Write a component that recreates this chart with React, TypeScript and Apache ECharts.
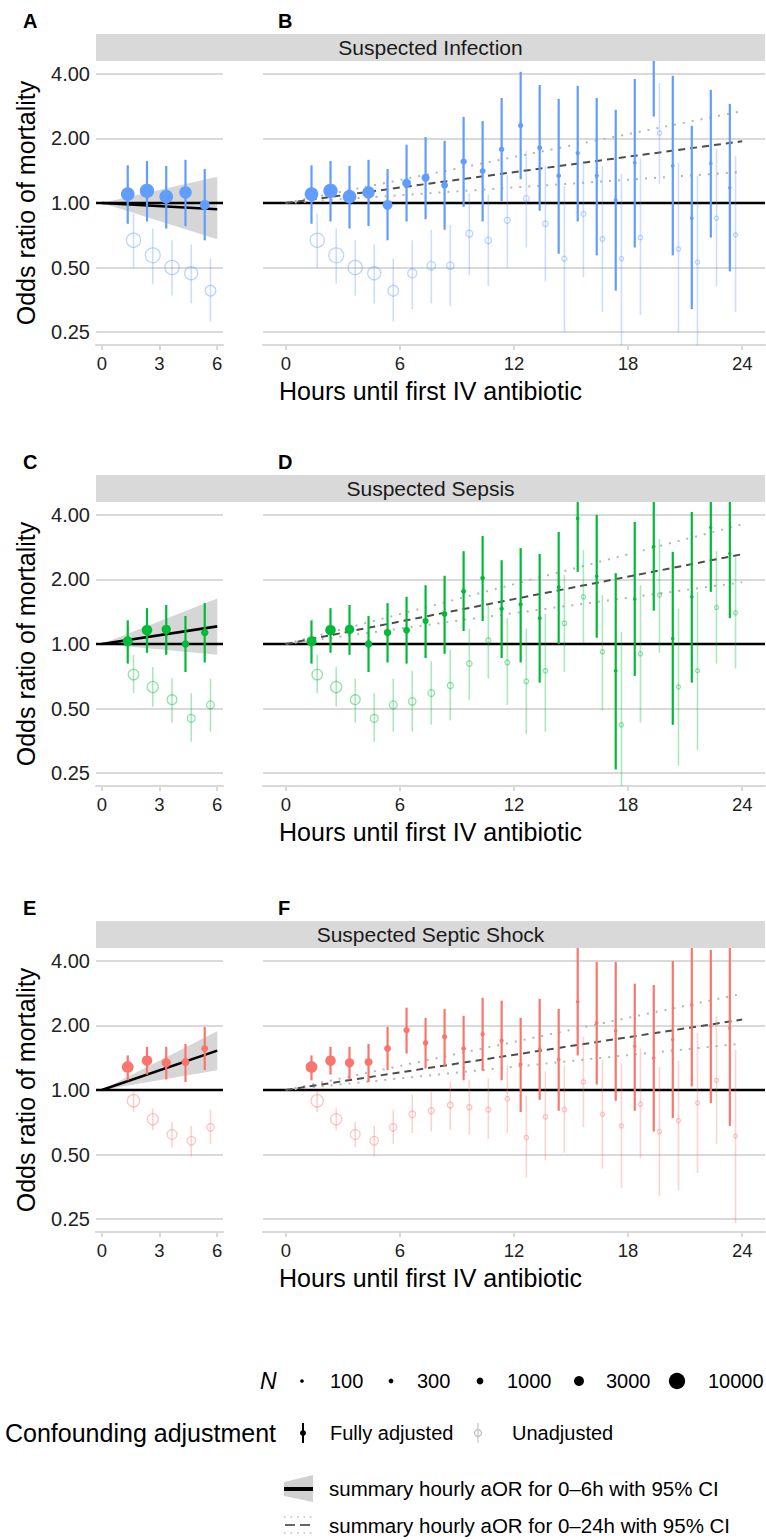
import React, { useEffect, useRef } from "react";
import * as echarts from "echarts";

// ---------------- data ----------------
const HOURS = [1.5, 2.5, 3.5, 4.5, 5.5, 6.5, 7.5, 8.5, 9.5, 10.5, 11.5, 12.5, 13.5, 14.5, 15.5, 16.5, 17.5, 18.5, 19.5, 20.5, 21.5, 22.5, 23.5];

// Suspected Infection
const INF_N = [6600, 7400, 6600, 5300, 3000, 2100, 1700, 1070, 860, 680, 540, 450, 370, 280, 215, 180, 140, 130, 120, 115, 100, 90, 80];
const INF_ADJ = [1.10, 1.14, 1.07, 1.12, 0.98, 1.24, 1.31, 1.21, 1.56, 1.41, 1.78, 2.30, 1.81, 1.34, 1.71, 1.34, 1.03, 1.54, 5.0, 1.49, 0.85, 1.53, 1.18];
const INF_ADJ_LO = [0.80, 0.82, 0.76, 0.78, 0.67, 0.82, 0.84, 0.75, 0.96, 0.82, 1.02, 1.29, 0.92, 0.58, 0.82, 0.57, 0.39, 0.62, 2.53, 0.57, 0.32, 0.69, 0.48];
const INF_ADJ_HI = [1.50, 1.57, 1.49, 1.59, 1.44, 1.87, 2.03, 1.95, 2.52, 2.41, 3.09, 4.09, 3.55, 3.06, 3.52, 3.09, 2.72, 3.79, 10.0, 3.92, 2.29, 3.37, 2.90];
const INF_UNADJ = [0.67, 0.57, 0.50, 0.47, 0.39, 0.47, 0.51, 0.51, 0.72, 0.67, 0.83, 1.05, 0.80, 0.55, 0.89, 0.68, 0.55, 0.69, 2.12, 0.61, 0.53, 0.85, 0.71];
const INF_UNADJ_LO = [0.50, 0.42, 0.37, 0.34, 0.28, 0.32, 0.34, 0.33, 0.46, 0.41, 0.50, 0.62, 0.43, 0.25, 0.45, 0.31, 0.18, 0.30, 1.23, 0.25, 0.18, 0.41, 0.31];
const INF_UNADJ_HI = [0.89, 0.76, 0.67, 0.64, 0.55, 0.67, 0.75, 0.79, 1.11, 1.09, 1.35, 1.75, 1.49, 1.20, 1.57, 1.49, 1.37, 1.61, 3.63, 1.54, 1.34, 1.79, 1.66];

// Suspected Sepsis
const SEP_N = [3000, 3500, 2500, 1350, 1350, 1070, 780, 540, 370, 280, 215, 180, 145, 130, 100, 95, 90, 85, 80, 75, 70, 65, 60];
const SEP_ADJ = [1.03, 1.16, 1.17, 1.00, 1.13, 1.16, 1.28, 1.38, 1.76, 2.03, 1.46, 1.53, 1.32, 1.84, 3.85, 2.07, 0.75, 1.62, 2.85, 1.06, 1.66, 3.49, 2.64];
const SEP_ADJ_LO = [0.81, 0.91, 0.89, 0.74, 0.82, 0.81, 0.86, 0.90, 1.15, 1.28, 0.86, 0.82, 0.66, 1.00, 2.17, 1.07, 0.26, 0.71, 1.43, 0.42, 0.66, 1.75, 1.32];
const SEP_ADJ_HI = [1.29, 1.47, 1.52, 1.35, 1.55, 1.66, 1.88, 2.08, 2.71, 3.19, 2.46, 2.80, 2.63, 3.33, 7.0, 4.00, 2.14, 3.71, 5.7, 2.69, 4.13, 7.0, 5.3];
const SEP_UNADJ = [0.72, 0.63, 0.55, 0.45, 0.52, 0.54, 0.59, 0.64, 0.81, 1.04, 0.82, 0.67, 0.75, 1.25, 1.66, 0.92, 0.42, 0.90, 1.69, 0.63, 0.75, 1.48, 1.40];
const SEP_UNADJ_LO = [0.59, 0.51, 0.43, 0.35, 0.39, 0.39, 0.42, 0.44, 0.55, 0.69, 0.52, 0.38, 0.39, 0.74, 1.01, 0.49, 0.15, 0.43, 0.91, 0.27, 0.32, 0.81, 0.77];
const SEP_UNADJ_HI = [0.89, 0.78, 0.69, 0.59, 0.69, 0.75, 0.83, 0.94, 1.18, 1.52, 1.32, 1.18, 1.38, 2.10, 2.74, 1.69, 1.14, 1.88, 3.09, 1.46, 1.75, 2.71, 2.54];

// Suspected Septic Shock
const SHK_N = [4600, 3500, 2500, 1700, 1070, 780, 540, 450, 280, 215, 180, 145, 130, 115, 100, 95, 90, 85, 80, 75, 70, 65, 60];
const SHK_ADJ = [1.28, 1.37, 1.34, 1.35, 1.56, 1.90, 1.66, 1.77, 1.56, 1.82, 1.70, 1.32, 1.55, 1.39, 2.58, 2.06, 1.89, 1.60, 1.41, 1.72, 2.49, 1.99, 1.94];
const SHK_ADJ_LO = [1.11, 1.18, 1.12, 1.09, 1.24, 1.48, 1.26, 1.28, 1.11, 1.23, 1.11, 0.79, 0.90, 0.80, 1.45, 1.06, 0.89, 0.80, 0.64, 0.74, 1.04, 0.87, 0.68];
const SHK_ADJ_HI = [1.45, 1.59, 1.59, 1.64, 1.97, 2.42, 2.17, 2.39, 2.22, 2.69, 2.61, 2.17, 2.66, 2.39, 4.8, 3.96, 3.96, 3.13, 3.09, 4.00, 6.0, 4.50, 5.5];
const SHK_UNADJ = [0.89, 0.73, 0.62, 0.58, 0.67, 0.77, 0.80, 0.85, 0.83, 0.81, 0.91, 0.60, 0.75, 0.81, 1.09, 0.77, 0.68, 0.86, 0.64, 0.72, 0.87, 1.11, 0.61];
const SHK_UNADJ_LO = [0.79, 0.65, 0.54, 0.49, 0.56, 0.63, 0.64, 0.65, 0.62, 0.59, 0.63, 0.39, 0.47, 0.51, 0.67, 0.43, 0.35, 0.48, 0.32, 0.34, 0.41, 0.56, 0.24];
const SHK_UNADJ_HI = [0.99, 0.82, 0.71, 0.68, 0.81, 0.95, 0.98, 1.09, 1.12, 1.13, 1.30, 0.94, 1.22, 1.30, 1.77, 1.38, 1.33, 1.56, 1.28, 1.37, 1.85, 2.22, 1.54];

// summary hourly aOR (estimate, lower, upper) per cohort: Infection, Sepsis, Shock
const SUM6_EST = [0.989, 1.032, 1.073];
const SUM6_LO = [0.937, 0.981, 1.036];
const SUM6_HI = [1.048, 1.085, 1.111];
const SUM24_EST = [1.028, 1.041, 1.032];
const SUM24_LO = [1.014, 1.028, 1.021];
const SUM24_HI = [1.042, 1.055, 1.044];

const COHORT_NAMES = ["Suspected Infection", "Suspected Sepsis", "Suspected Septic Shock"];
const PANEL_LETTERS = [["A", "B"], ["C", "D"], ["E", "F"]];
const X_TICKS_LEFT = [0, 3, 6];
const X_TICKS_RIGHT = [0, 6, 12, 18, 24];
const N_LEGEND = [100, 300, 1000, 3000, 10000];

// ---------------- styling / layout ----------------
const COLORS = ["97,156,255", "0,186,56", "248,118,109"];
const FONT = "'Liberation Sans', Arial, Helvetica, sans-serif";
const GRID_COLOR = "#d9d9d9";
const ROW_TOP = [61, 502, 948];
const PLOT_H = 284;
const LEFT_X = 96, LEFT_W = 127, RIGHT_X = 263, RIGHT_W = 502;
const X_LEFT = [-0.3, 6.3];
const X_RIGHT = [-1.2, 25.2];
const Y_MIN = Math.pow(2, -2.2);
const Y_MAX = Math.pow(2, 2.2);
const DODGE = 0.15;

const COHORTS = [
  { n: INF_N, adj: INF_ADJ, adjLo: INF_ADJ_LO, adjHi: INF_ADJ_HI, un: INF_UNADJ, unLo: INF_UNADJ_LO, unHi: INF_UNADJ_HI },
  { n: SEP_N, adj: SEP_ADJ, adjLo: SEP_ADJ_LO, adjHi: SEP_ADJ_HI, un: SEP_UNADJ, unLo: SEP_UNADJ_LO, unHi: SEP_UNADJ_HI },
  { n: SHK_N, adj: SHK_ADJ, adjLo: SHK_ADJ_LO, adjHi: SHK_ADJ_HI, un: SHK_UNADJ, unLo: SHK_UNADJ_LO, unHi: SHK_UNADJ_HI },
];

const sizeOf = (n: number) => 2.3 + 0.14 * Math.sqrt(n);
const rgba = (rgb: string, a: number) => `rgba(${rgb},${a})`;
const fmtOR = (v: number) => {
  const l = Math.log2(v);
  return Math.abs(l - Math.round(l)) < 1e-6 ? v.toFixed(2) : "";
};

function errorBarSeries(g: number, data: number[][], color: string, width: number, z: number) {
  return {
    type: "custom",
    xAxisIndex: g,
    yAxisIndex: g,
    silent: true,
    z,
    clip: true,
    encode: { x: 0, y: [1, 2] },
    data,
    renderItem: (params: any, api: any) => {
      const cs = params.coordSys;
      const x = api.value(0);
      const p1 = api.coord([x, api.value(1)]);
      const p2 = api.coord([x, api.value(2)]);
      const top = cs.y, bot = cs.y + cs.height;
      const y1 = Math.min(Math.max(p1[1], top), bot);
      const y2 = Math.min(Math.max(p2[1], top), bot);
      return {
        type: "line",
        shape: { x1: p1[0], y1, x2: p2[0], y2 },
        style: { stroke: color, lineWidth: width },
      };
    },
  };
}

function lineSeries(g: number, data: number[][], color: string, width: number, type: any, z: number) {
  return {
    type: "line",
    xAxisIndex: g,
    yAxisIndex: g,
    silent: true,
    z,
    symbol: "none",
    showSymbol: false,
    data,
    lineStyle: { color, width, type, cap: "butt" },
  };
}

function buildOption() {
  const grid: any[] = [];
  const xAxis: any[] = [];
  const yAxis: any[] = [];
  const series: any[] = [];
  const graphic: any[] = [];

  COHORTS.forEach((c, r) => {
    const rgb = COLORS[r];
    const top = ROW_TOP[r];
    [0, 1].forEach((p) => {
      const g = r * 2 + p;
      const isLeft = p === 0;
      const xr = isLeft ? X_LEFT : X_RIGHT;
      const ticks = isLeft ? X_TICKS_LEFT : X_TICKS_RIGHT;
      grid.push({ left: isLeft ? LEFT_X : RIGHT_X, top, width: isLeft ? LEFT_W : RIGHT_W, height: PLOT_H, containLabel: false });
      xAxis.push({
        gridIndex: g, type: "value", min: xr[0], max: xr[1],
        axisLine: { show: true, onZero: false, lineStyle: { color: GRID_COLOR, width: 2 } },
        axisTick: { show: true, customValues: ticks, length: 5, lineStyle: { color: GRID_COLOR, width: 2 } },
        axisLabel: { show: true, customValues: ticks, fontSize: 18.5, color: "#222", fontFamily: FONT, margin: 9 },
        splitLine: { show: false },
      });
      yAxis.push({
        gridIndex: g, type: "log", logBase: 2, min: Y_MIN, max: Y_MAX,
        axisLine: { show: false }, axisTick: { show: false },
        axisLabel: { show: isLeft, showMinLabel: false, showMaxLabel: false, formatter: fmtOR, fontSize: 20, color: "#222", fontFamily: FONT, margin: 6 },
        splitLine: { show: true, showMinLine: false, showMaxLine: false, lineStyle: { color: GRID_COLOR, width: 2 } },
      });

      const idx = HOURS.map((h, i) => i).filter((i) => (isLeft ? HOURS[i] < 6 : true));

      if (isLeft) {
        const e6 = Math.pow(SUM6_EST[r], 6), l6 = Math.pow(SUM6_LO[r], 6), h6 = Math.pow(SUM6_HI[r], 6);
        series.push({
          type: "custom", xAxisIndex: g, yAxisIndex: g, silent: true, z: 1, clip: true,
          encode: { x: 0, y: [1, 2] },
          data: [[6, l6, h6]],
          renderItem: (params: any, api: any) => {
            const a = api.coord([0, 1]);
            const b = api.coord([api.value(0), api.value(2)]);
            const d = api.coord([api.value(0), api.value(1)]);
            return { type: "polygon", shape: { points: [a, b, d] }, style: { fill: "#d6d6d6" } };
          },
        });
        series.push(lineSeries(g, [[xr[0], 1], [xr[1], 1]], "#000", 2.6, "solid", 2));
        series.push(lineSeries(g, [[0, 1], [6, e6]], "#000", 2.6, "solid", 3));
      } else {
        series.push(lineSeries(g, [[xr[0], 1], [xr[1], 1]], "#000", 2.6, "solid", 2));
        series.push(lineSeries(g, [[0, 1], [24, Math.pow(SUM24_LO[r], 24)]], "#b5b5b5", 2, [2, 7], 3));
        series.push(lineSeries(g, [[0, 1], [24, Math.pow(SUM24_HI[r], 24)]], "#b5b5b5", 2, [2, 7], 3));
        series.push(lineSeries(g, [[0, 1], [24, Math.pow(SUM24_EST[r], 24)]], "#4d4d4d", 2, [7, 5], 3));
      }

      series.push(errorBarSeries(g, idx.map((i) => [HOURS[i] + DODGE, c.unLo[i], c.unHi[i]]), rgba(rgb, 0.33), 1.6, 4));
      series.push(errorBarSeries(g, idx.map((i) => [HOURS[i] - DODGE, c.adjLo[i], c.adjHi[i]]), rgba(rgb, 1), 2.2, 5));
      series.push({
        type: "scatter", xAxisIndex: g, yAxisIndex: g, silent: true, z: 6, clip: true,
        data: idx.map((i) => [HOURS[i] + DODGE, c.un[i], c.n[i]]),
        symbol: "circle",
        symbolSize: (v: number[]) => sizeOf(v[2]) + 0.5,
        itemStyle: { color: "rgba(255,255,255,0)", borderColor: rgba(rgb, 0.42), borderWidth: 1.3, opacity: 1 },
      });
      series.push({
        type: "scatter", xAxisIndex: g, yAxisIndex: g, silent: true, z: 7, clip: true,
        data: idx.map((i) => [HOURS[i] - DODGE, c.adj[i], c.n[i]]),
        symbol: "circle",
        symbolSize: (v: number[]) => sizeOf(v[2]),
        itemStyle: { color: rgba(rgb, 1), opacity: 1 },
      });

      // panel letter
      graphic.push({
        type: "text", x: isLeft ? 23 : 278, y: top - 40,
        style: { text: PANEL_LETTERS[r][p], font: `bold 20px ${FONT}`, fill: "#000", textAlign: "left", textVerticalAlign: "middle" },
      });
    });

    // strip
    graphic.push({ type: "rect", shape: { x: LEFT_X, y: top - 27, width: RIGHT_X + RIGHT_W - LEFT_X, height: 27 }, style: { fill: "#d9d9d9" } });
    graphic.push({
      type: "text", x: (LEFT_X + RIGHT_X + RIGHT_W) / 2, y: top - 13.5,
      style: { text: COHORT_NAMES[r], font: `21px ${FONT}`, fill: "#1a1a1a", textAlign: "center", textVerticalAlign: "middle" },
    });
    // y title
    graphic.push({
      type: "text", x: 26, y: top + PLOT_H / 2, rotation: Math.PI / 2,
      style: { text: "Odds ratio of mortality", font: `25px ${FONT}`, fill: "#000", textAlign: "center", textVerticalAlign: "middle" },
    });
    // x title
    graphic.push({
      type: "text", x: (LEFT_X + RIGHT_X + RIGHT_W) / 2, y: top + PLOT_H + 46,
      style: { text: "Hours until first IV antibiotic", font: `25px ${FONT}`, fill: "#000", textAlign: "center", textVerticalAlign: "middle" },
    });
  });

  // ---------- legend ----------
  const L1 = 1381, L2 = 1433, L3 = 1488, L4 = 1525;
  graphic.push({ type: "text", x: 260, y: L1, style: { text: "N", font: `italic 23px ${FONT}`, fill: "#000", textVerticalAlign: "middle" } });
  const dotX = [302, 391, 480, 579, 677];
  const labX = [330, 417, 507, 606, 708];
  N_LEGEND.forEach((n, i) => {
    graphic.push({ type: "circle", shape: { cx: dotX[i], cy: L1, r: sizeOf(n) / 2 }, style: { fill: "#000" } });
    graphic.push({ type: "text", x: labX[i], y: L1, style: { text: String(n), font: `20px ${FONT}`, fill: "#000", textVerticalAlign: "middle" } });
  });

  graphic.push({ type: "text", x: 5, y: L2, style: { text: "Confounding adjustment", font: `25px ${FONT}`, fill: "#000", textVerticalAlign: "middle" } });
  graphic.push({ type: "line", shape: { x1: 303, y1: L2 - 10, x2: 303, y2: L2 + 10 }, style: { stroke: "#000", lineWidth: 2 } });
  graphic.push({ type: "circle", shape: { cx: 303, cy: L2, r: 3 }, style: { fill: "#000" } });
  graphic.push({ type: "text", x: 330, y: L2, style: { text: "Fully adjusted", font: `20px ${FONT}`, fill: "#000", textVerticalAlign: "middle" } });
  graphic.push({ type: "line", shape: { x1: 478, y1: L2 - 10, x2: 478, y2: L2 + 10 }, style: { stroke: "#d0d0d0", lineWidth: 1.5 } });
  graphic.push({ type: "circle", shape: { cx: 478, cy: L2, r: 3.5 }, style: { fill: "none", stroke: "#bdbdbd", lineWidth: 1.2 } });
  graphic.push({ type: "text", x: 512, y: L2, style: { text: "Unadjusted", font: `20px ${FONT}`, fill: "#000", textVerticalAlign: "middle" } });

  graphic.push({ type: "polygon", shape: { points: [[284, 1482], [313, 1475], [313, 1502], [284, 1496]] }, style: { fill: "#d0d0d0" } });
  graphic.push({ type: "line", shape: { x1: 284, y1: 1489, x2: 313, y2: 1489 }, style: { stroke: "#000", lineWidth: 4 } });
  graphic.push({ type: "text", x: 329, y: L3, style: { text: "summary hourly aOR for 0–6h with 95% CI", font: `20.5px ${FONT}`, fill: "#000", textVerticalAlign: "middle" } });

  graphic.push({ type: "line", shape: { x1: 284, y1: L4 - 8, x2: 313, y2: L4 - 8 }, style: { stroke: "#c0c0c0", lineWidth: 1.5, lineDash: [1.5, 5] } });
  graphic.push({ type: "line", shape: { x1: 284, y1: L4 + 8, x2: 313, y2: L4 + 8 }, style: { stroke: "#c0c0c0", lineWidth: 1.5, lineDash: [1.5, 5] } });
  graphic.push({ type: "line", shape: { x1: 285, y1: L4, x2: 313, y2: L4 }, style: { stroke: "#666", lineWidth: 2, lineDash: [10, 5] } });
  graphic.push({ type: "text", x: 329, y: L4, style: { text: "summary hourly aOR for 0–24h with 95% CI", font: `20.5px ${FONT}`, fill: "#000", textVerticalAlign: "middle" } });

  return {
    animation: false,
    backgroundColor: "#fff",
    textStyle: { fontFamily: FONT },
    grid, xAxis, yAxis, series, graphic,
  };
}

export default function App() {
  const ref = useRef<HTMLDivElement>(null);
  useEffect(() => {
    document.body.style.margin = "0";
    if (!ref.current) return;
    const chart = echarts.init(ref.current, null, { renderer: "svg" });
    chart.setOption(buildOption() as any);
    return () => chart.dispose();
  }, []);
  return <div ref={ref} style={{ width: 766, height: 1540 }} />;
}
